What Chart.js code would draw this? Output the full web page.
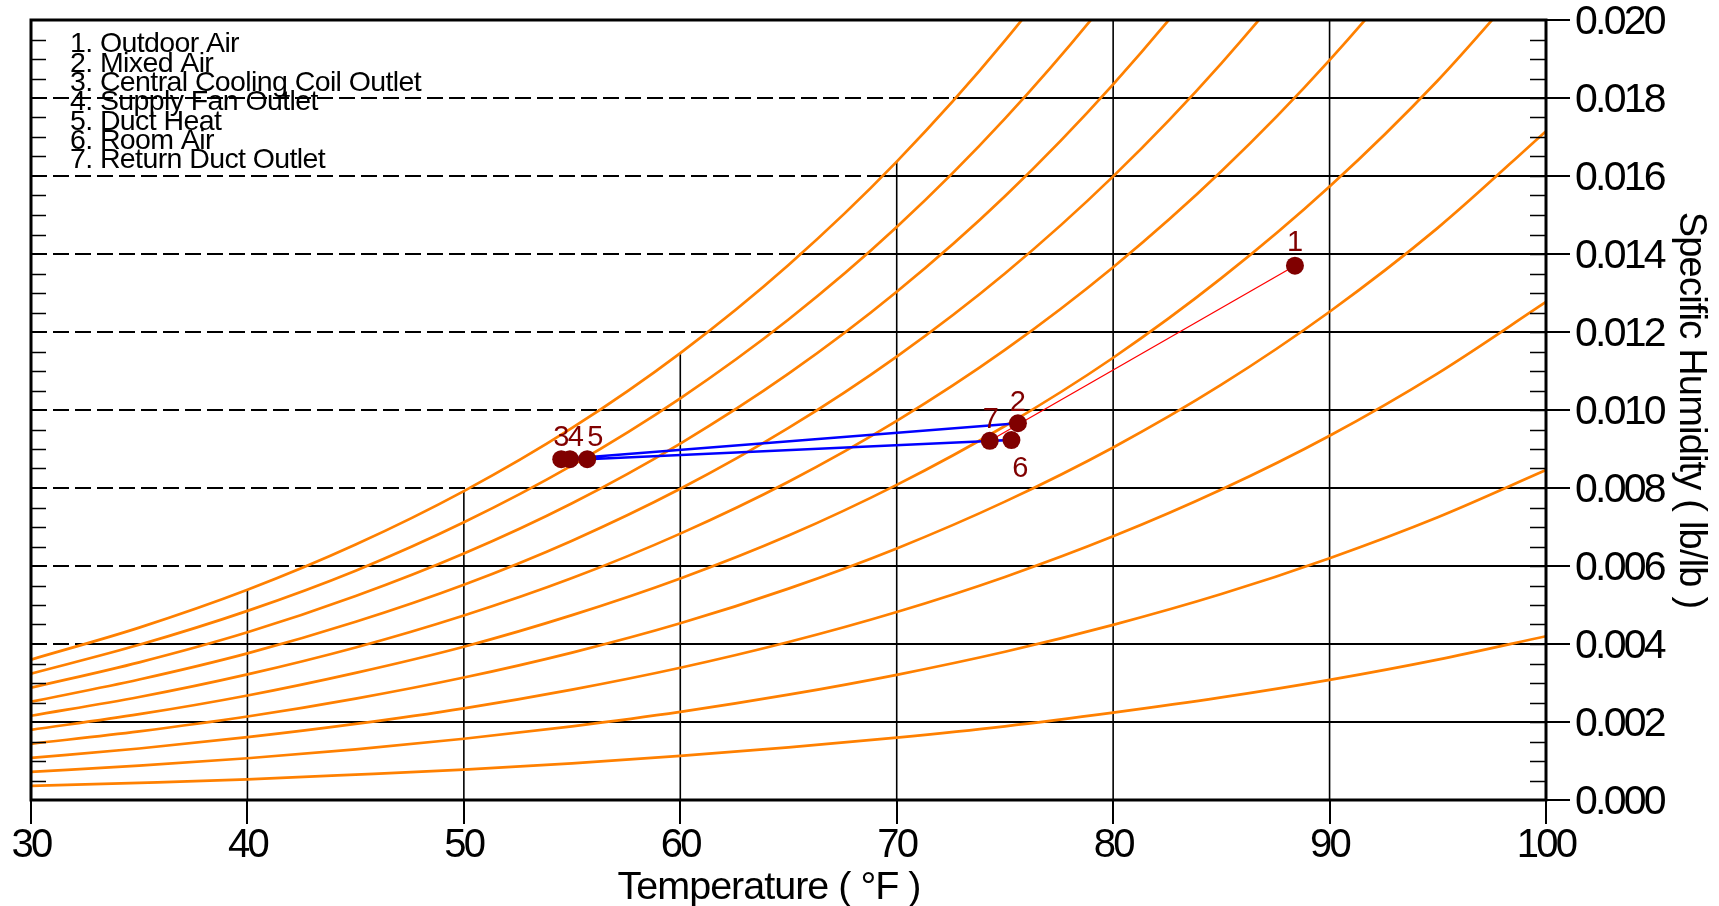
<!DOCTYPE html>
<html>
<head>
<meta charset="utf-8">
<title>Psychrometric chart</title>
<script src="https://cdn.jsdelivr.net/npm/chart.js@4.4.1/dist/chart.umd.min.js"></script>
<style>
  html, body { margin: 0; padding: 0; background: #fff; }
  #wrap { width: 1719px; height: 906px; }
</style>
</head>
<body>
<div id="wrap"><canvas id="psychro"></canvas></div>
<script>
// dry bulb temperatures the RH curves are sampled at (°F)
const temps = [30, 35, 40, 45, 50, 55, 60, 65, 70, 75, 80, 85, 90, 95, 100];

// specific humidity (lb/lb) along each relative humidity curve
const rh10  = [0.00036, 0.00044, 0.00053, 0.00065, 0.00078, 0.00094, 0.00113, 0.00135, 0.00160, 0.00189, 0.00224, 0.00263, 0.00308, 0.00360, 0.00420];
const rh20  = [0.00072, 0.00088, 0.00107, 0.00130, 0.00157, 0.00189, 0.00226, 0.00270, 0.00321, 0.00380, 0.00449, 0.00528, 0.00620, 0.00725, 0.00846];
const rh30  = [0.00108, 0.00132, 0.00161, 0.00195, 0.00235, 0.00283, 0.00339, 0.00405, 0.00482, 0.00572, 0.00676, 0.00796, 0.00934, 0.01094, 0.01277];
const rh40  = [0.00144, 0.00176, 0.00214, 0.00260, 0.00314, 0.00378, 0.00453, 0.00542, 0.00645, 0.00765, 0.00904, 0.01065, 0.01252, 0.01467, 0.01715];
const rh50  = [0.00180, 0.00220, 0.00268, 0.00326, 0.00393, 0.00474, 0.00568, 0.00678, 0.00808, 0.00959, 0.01134, 0.01338, 0.01573, 0.01845, 0.02159];
const rh60  = [0.00216, 0.00264, 0.00322, 0.00391, 0.00473, 0.00569, 0.00683, 0.00816, 0.00972, 0.01154, 0.01366, 0.01612, 0.01897, 0.02227, 0.02608];
const rh70  = [0.00252, 0.00309, 0.00376, 0.00457, 0.00552, 0.00665, 0.00798, 0.00954, 0.01137, 0.01350, 0.01599, 0.01889, 0.02225, 0.02614, 0.03065];
const rh80  = [0.00288, 0.00353, 0.00430, 0.00523, 0.00632, 0.00761, 0.00914, 0.01093, 0.01303, 0.01548, 0.01835, 0.02168, 0.02556, 0.03006, 0.03527];
const rh90  = [0.00324, 0.00398, 0.00485, 0.00588, 0.00712, 0.00858, 0.01030, 0.01232, 0.01469, 0.01747, 0.02071, 0.02450, 0.02890, 0.03402, 0.03996];
const rh100 = [0.00360, 0.00442, 0.00539, 0.00655, 0.00792, 0.00954, 0.01146, 0.01372, 0.01637, 0.01947, 0.02310, 0.02734, 0.03228, 0.03803, 0.04472];
const rhCurves = [rh10, rh20, rh30, rh40, rh50, rh60, rh70, rh80, rh90, rh100];

// state points of the air handling process
const procNames = ['Outdoor Air', 'Mixed Air', 'Central Cooling Coil Outlet', 'Supply Fan Outlet', 'Duct Heat', 'Room Air', 'Return Duct Outlet'];
const procT = [88.4, 75.6, 54.5, 54.9, 55.7, 75.3, 74.3];
const procW = [0.01370, 0.00966, 0.00874, 0.00874, 0.00874, 0.00923, 0.00921];
const bluePath = [1, 2, 3, 4, 5, 6];   // 2 -> 3 -> 4 -> 5 -> 6 -> 7
const redPath = [0, 6];                // outdoor air to return air (mixing line)

// grid: horizontal lines are dashed left of saturation, solid right of it
const gridW = [0.002, 0.004, 0.006, 0.008, 0.010, 0.012, 0.014, 0.016, 0.018];
const gridDewT = [30, 32.4, 42.6, 50.3, 56.2, 61.2, 65.5, 69.3, 72.6];
// vertical lines run from the bottom up to the saturation curve
const gridT = [40, 50, 60, 70, 80, 90];
const gridTopW = [0.00539, 0.00792, 0.01146, 0.01637, 0.020, 0.020];

// axis ticks
const xTicks = [30, 40, 50, 60, 70, 80, 90, 100];
const xTickLabels = ['30', '40', '50', '60', '70', '80', '90', '100'];
const yTicks = [0, 0.002, 0.004, 0.006, 0.008, 0.010, 0.012, 0.014, 0.016, 0.018, 0.020];
const yTickLabels = ['0.000', '0.002', '0.004', '0.006', '0.008', '0.010', '0.012', '0.014', '0.016', '0.018', '0.020'];

// label placement around each state point (px)
const labelDx = [0, 0, 0, 6, 8, 9, 1];
const labelDy = [-15, -12, -13, -13, -13, 37, -13];

const FONT = '"Liberation Sans", Arial, sans-serif';
Chart.defaults.font.family = FONT;
Chart.defaults.color = '#000';

const datasets = [];

gridW.forEach((w, i) => {
    if (gridDewT[i] > 30) {
        datasets.push({
            data: [{x: 30, y: w}, {x: gridDewT[i], y: w}],
            borderColor: '#000', borderWidth: 2, borderDash: [16, 6],
            pointRadius: 0, order: 4
        });
    }
    datasets.push({
        data: [{x: gridDewT[i], y: w}, {x: 100, y: w}],
        borderColor: '#000', borderWidth: 2, pointRadius: 0, order: 4
    });
});

gridT.forEach((t, i) => {
    datasets.push({
        data: [{x: t, y: 0}, {x: t, y: gridTopW[i]}],
        borderColor: '#000', borderWidth: 1.6, pointRadius: 0, order: 4
    });
});

rhCurves.forEach(curve => {
    datasets.push({
        data: temps.map((t, i) => ({x: t, y: curve[i]})),
        borderColor: '#ff8000', borderWidth: 2.7, pointRadius: 0,
        cubicInterpolationMode: 'monotone', order: 3
    });
});

datasets.push({
    data: bluePath.map(i => ({x: procT[i], y: procW[i]})),
    borderColor: '#0000ff', borderWidth: 2.5, pointRadius: 0, order: 2
});
datasets.push({
    data: redPath.map(i => ({x: procT[i], y: procW[i]})),
    borderColor: '#ff0000', borderWidth: 1.3, pointRadius: 0, order: 1
});
datasets.push({
    data: procT.map((t, i) => ({x: t, y: procW[i]})),
    showLine: false, pointRadius: 9, pointBackgroundColor: '#800000',
    pointBorderWidth: 0, order: 0
});

const overlay = {
    id: 'overlay',
    beforeDraw(chart) {
        // the reference text is set tightly
        chart.ctx.letterSpacing = '-2.75px';
    },
    afterDraw(chart) {
        const {ctx, chartArea: a, scales: {x, y}} = chart;
        ctx.save();

        // minor ticks inside the frame
        ctx.strokeStyle = '#000';
        ctx.lineWidth = 1.5;
        for (let k = 1; k < 40; k++) {
            const py = Math.round(y.getPixelForValue(k * 0.0005)) + 0.5;
            ctx.beginPath();
            if (k % 4) {
                ctx.moveTo(a.left, py);
                ctx.lineTo(a.left + 15, py);
            }
            ctx.moveTo(a.right - 16, py);
            ctx.lineTo(a.right, py);
            ctx.stroke();
        }

        // frame
        ctx.lineWidth = 3;
        ctx.strokeRect(a.left, a.top, a.right - a.left, a.bottom - a.top);

        // axis titles
        ctx.fillStyle = '#000';
        ctx.textBaseline = 'alphabetic';
        ctx.textAlign = 'center';
        ctx.font = '39.5px ' + FONT;
        ctx.letterSpacing = '-1px';
        ctx.fillText('Temperature ( °F )', 769, 899);
        ctx.save();
        ctx.translate(1680, (a.top + a.bottom) / 2);
        ctx.rotate(Math.PI / 2);
        ctx.font = '38px ' + FONT;
        ctx.letterSpacing = '-0.8px';
        ctx.fillText('Specific Humidity ( lb/lb )', 0, 0);
        ctx.restore();

        // list of states, top left
        ctx.font = '28.5px ' + FONT;
        ctx.letterSpacing = '-0.6px';
        ctx.textAlign = 'left';
        procNames.forEach((name, i) => {
            ctx.fillText((i + 1) + '. ' + name, 70, 52.3 + i * 19.3);
        });

        // state point numbers
        ctx.letterSpacing = '0px';
        ctx.fillStyle = '#800000';
        ctx.font = '29px ' + FONT;
        ctx.textAlign = 'center';
        procT.forEach((t, i) => {
            ctx.fillText(String(i + 1),
                x.getPixelForValue(t) + labelDx[i],
                y.getPixelForValue(procW[i]) + labelDy[i]);
        });
        ctx.restore();
        ctx.letterSpacing = '0px';
    }
};

new Chart(document.getElementById('psychro'), {
    type: 'line',
    data: { datasets: datasets },
    options: {
        responsive: true,
        maintainAspectRatio: false,
        animation: false,
        events: [],
        layout: { padding: { left: 31, top: 20, right: 0, bottom: 0 } },
        plugins: {
            legend: { display: false },
            tooltip: { enabled: false }
        },
        scales: {
            x: {
                type: 'linear',
                min: 30,
                max: 100,
                afterBuildTicks: s => { s.ticks = xTicks.map(v => ({value: v})); },
                afterFit: s => { s.height = 106; s.paddingLeft = 0; s.paddingRight = 0; },
                ticks: {
                    font: { size: 40 }, color: '#000', padding: -2,
                    autoSkip: false, maxRotation: 0,
                    callback: (v, i) => xTickLabels[i]
                },
                grid: { drawOnChartArea: false, drawTicks: true, tickLength: 24, color: '#000', lineWidth: 2 },
                border: { display: false },
                title: { display: false }
            },
            y: {
                type: 'linear',
                position: 'right',
                min: 0,
                max: 0.02,
                afterBuildTicks: s => { s.ticks = yTicks.map(v => ({value: v})); },
                afterFit: s => { s.width = 173; s.paddingTop = 0; s.paddingBottom = 0; },
                ticks: {
                    font: { size: 41 }, color: '#000', padding: 5, labelOffset: 3,
                    autoSkip: false,
                    callback: (v, i) => yTickLabels[i]
                },
                grid: { drawOnChartArea: false, drawTicks: true, tickLength: 24, color: '#000', lineWidth: 2 },
                border: { display: false },
                title: { display: false }
            }
        }
    },
    plugins: [overlay]
});
</script>
</body>
</html>
